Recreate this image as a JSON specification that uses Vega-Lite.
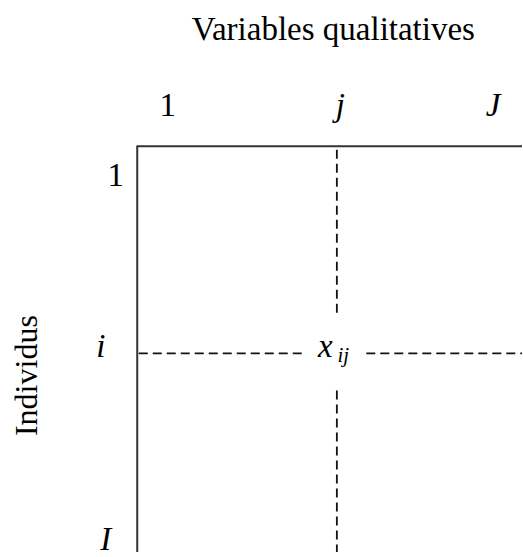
{
  "$schema": "https://vega.github.io/schema/vega-lite/v6.json",
  "width": 523,
  "height": 557,
  "padding": 0,
  "autosize": {"type": "fit", "contains": "padding"},
  "background": "white",
  "config": {"view": {"stroke": null}},
  "datasets": {
    "frame": [
      {"x": 137.5, "y": 147, "x2": 137.5, "y2": 557},
      {"x": 137, "y": 147.5, "x2": 523, "y2": 147.5}
    ],
    "dashes": [
      {"x": 337.5, "y": 151, "x2": 337.5, "y2": 318},
      {"x": 337.5, "y": 394, "x2": 337.5, "y2": 557},
      {"x": 139, "y": 356.5, "x2": 306, "y2": 356.5},
      {"x": 367, "y": 356.5, "x2": 523, "y2": 356.5}
    ],
    "labels": [
      {"text": "Variables qualitatives", "x": 334, "y": 40, "kind": "roman"},
      {"text": "1", "x": 168, "y": 117, "kind": "roman"},
      {"text": "j", "x": 341, "y": 117, "kind": "italic"},
      {"text": "J", "x": 494, "y": 117, "kind": "italic"},
      {"text": "1", "x": 116, "y": 188, "kind": "roman"},
      {"text": "i", "x": 101, "y": 360, "kind": "italic"},
      {"text": "I", "x": 106, "y": 555, "kind": "italic"},
      {"text": "x", "x": 326, "y": 360, "kind": "italic"},
      {"text": "ij", "x": 344, "y": 365, "kind": "sub"},
      {"text": "Individus", "x": 37, "y": 379, "kind": "vertical"}
    ]
  },
  "layer": [
    {
      "data": {"name": "frame"},
      "mark": {"type": "rule", "stroke": "#333333", "strokeWidth": 2},
      "encoding": {
        "x": {"field": "x", "type": "quantitative", "scale": {"domain": [0, 523], "nice": false, "zero": false}, "axis": null},
        "x2": {"field": "x2"},
        "y": {"field": "y", "type": "quantitative", "scale": {"domain": [0, 557], "nice": false, "zero": false, "reverse": true}, "axis": null},
        "y2": {"field": "y2"}
      }
    },
    {
      "data": {"name": "dashes"},
      "mark": {"type": "rule", "stroke": "#111111", "strokeWidth": 1.8, "strokeDash": [9, 5]},
      "encoding": {
        "x": {"field": "x", "type": "quantitative", "axis": null},
        "x2": {"field": "x2"},
        "y": {"field": "y", "type": "quantitative", "axis": null},
        "y2": {"field": "y2"}
      }
    },
    {
      "data": {"name": "labels"},
      "transform": [{"filter": "datum.kind === 'roman'"}],
      "mark": {"type": "text", "font": "Liberation Serif", "fontSize": 33, "align": "center", "baseline": "alphabetic", "color": "#000000"},
      "encoding": {
        "x": {"field": "x", "type": "quantitative", "axis": null},
        "y": {"field": "y", "type": "quantitative", "axis": null},
        "text": {"field": "text"}
      }
    },
    {
      "data": {"name": "labels"},
      "transform": [{"filter": "datum.kind === 'italic'"}],
      "mark": {"type": "text", "font": "Liberation Serif", "fontStyle": "italic", "fontSize": 33, "align": "center", "baseline": "alphabetic", "color": "#000000"},
      "encoding": {
        "x": {"field": "x", "type": "quantitative", "axis": null},
        "y": {"field": "y", "type": "quantitative", "axis": null},
        "text": {"field": "text"}
      }
    },
    {
      "data": {"name": "labels"},
      "transform": [{"filter": "datum.kind === 'sub'"}],
      "mark": {"type": "text", "font": "Liberation Serif", "fontStyle": "italic", "fontSize": 21, "align": "center", "baseline": "alphabetic", "color": "#000000"},
      "encoding": {
        "x": {"field": "x", "type": "quantitative", "axis": null},
        "y": {"field": "y", "type": "quantitative", "axis": null},
        "text": {"field": "text"}
      }
    },
    {
      "data": {"name": "labels"},
      "transform": [{"filter": "datum.kind === 'vertical'"}],
      "mark": {"type": "text", "font": "Liberation Serif", "fontSize": 32, "angle": 270, "align": "center", "baseline": "alphabetic", "color": "#000000"},
      "encoding": {
        "x": {"field": "x", "type": "quantitative", "axis": null},
        "y": {"field": "y", "type": "quantitative", "axis": null},
        "text": {"field": "text"}
      }
    }
  ]
}
